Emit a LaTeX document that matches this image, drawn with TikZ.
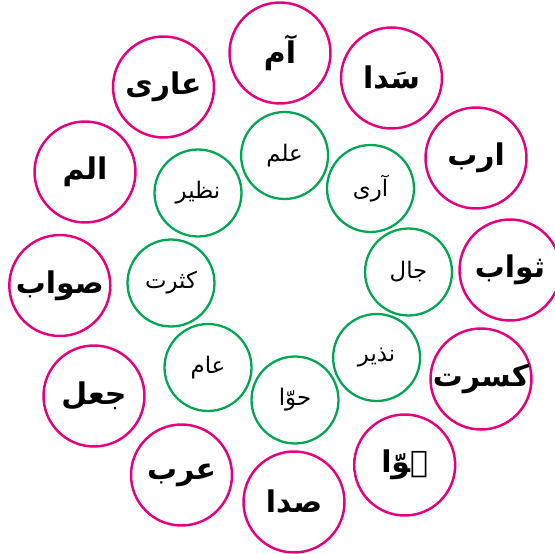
\documentclass[tikz,border=0pt]{standalone}
\usepackage{fontspec}
\newfontfamily\urdu[Script=Arabic]{DejaVu Sans}
\TeXXeTstate=1
\definecolor{pinkring}{RGB}{230,0,126}
\definecolor{greenring}{RGB}{0,166,81}
\newcommand{\ur}[1]{\beginR#1\endR}
\tikzset{outer/.style={circle,draw=pinkring,line width=1.4pt,minimum size=2.02cm,inner sep=0pt,font=\urdu\bfseries\fontsize{17}{20}\selectfont},inner/.style={circle,draw=greenring,line width=1.3pt,minimum size=1.74cm,inner sep=0pt,font=\urdu\fontsize{13}{16}\selectfont}}

\begin{document}
\begin{tikzpicture}[x=0.02cm,y=-0.02cm]
\useasboundingbox (0,0) rectangle (555,554);
% outer ring
\foreach \x/\y/\t [count=\i] in {280/53/آم,391.5/78/سَدا,476/158/ارب,510/270/ثواب,481/379/کسرت,404.7/465/ہوّا,294/502/صدا,181.5/475/عرب,94/396/جعل,59.8/285.5/صواب,85/172/الم,163.5/87/عاری}{
\node[outer] (o\i) at (\x,\y) {\ur{\t}};
}
% inner ring
\foreach \x/\y/\t [count=\i] in {284.6/155.5/علم,370.5/188.5/آری,408.5/272/جال,376.6/357.5/نذیر,295/400/حوّا,208/367.5/عام,171/283/کثرت,198/193/نظیر}{
\node[inner] (n\i) at (\x,\y) {\ur{\t}};
}
\end{tikzpicture}
\end{document}
